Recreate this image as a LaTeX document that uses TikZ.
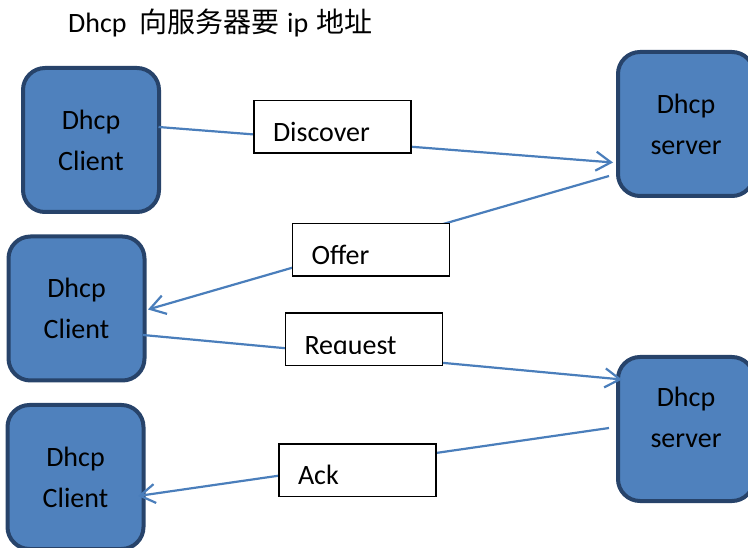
\documentclass[tikz,border=0pt]{standalone}
\usepackage{fontspec}
\setmainfont{Carlito}
\newfontfamily\cjk{Noto Sans CJK SC}
\usetikzlibrary{arrows.meta,calc}
\pgfdeclarelayer{bg}
\pgfdeclarelayer{mid}
\pgfsetlayers{bg,mid,main}
\definecolor{boxfill}{HTML}{4F81BD}
\definecolor{boxline}{HTML}{27436A}
\definecolor{conn}{HTML}{4A7EBB}
\tikzset{
  hostbox/.style={draw=boxline, fill=boxfill, line width=4pt, rounded corners=22pt,
    minimum width=136pt, minimum height=144pt, inner sep=0pt, align=center,
    font=\fontsize{28}{41}\selectfont},
  msgbox/.style={draw=black, fill=white, line width=1.5pt, inner xsep=19pt, inner ysep=0pt,
    text width=119pt, align=left, text height=41pt, text depth=11.5pt,
    font=\fontsize{28}{34}\selectfont},
  link/.style={draw=conn, line width=2.2pt},
  arrowlink/.style={link, -{Straight Barb[length=15pt,width=19pt]}},
}
\begin{document}
\begin{tikzpicture}[x=1pt,y=-1pt]
\useasboundingbox (0,0) rectangle (748,548);
\clip (0,0) rectangle (748,548);
\node[anchor=base west, inner sep=0pt, font=\fontsize{28}{30}\selectfont] (title) at (68,33)
  {Dhcp\hspace{13pt}{\cjk 向服务器要}\hspace{7.5pt}ip\hspace{8pt}{\cjk 地址}};
\begin{pgfonlayer}{bg}
\node[hostbox] (c1) at (91,140) {Dhcp\\Client};
\node[hostbox] (s1) at (686,124) {Dhcp\\server};
\node[hostbox] (c2) at (76.5,308.5) {Dhcp\\Client};
\node[hostbox, label={[font=\fontsize{28}{41}\selectfont, align=center, yshift=12pt]center:Dhcp\\server}] (s2) at (686,429) {};
\node[hostbox] (c3) at (75.5,477) {Dhcp\\Client};
\end{pgfonlayer}
\node[msgbox] (m1) at (332.5,127) {Discover};
\node[msgbox] (m2) at (371,250) {Offer};
\node[msgbox] (m3) at (364,339.5) {Request};
\node[msgbox] (m4) at (357.5,470) {Ack};
\fill[white] ($(m3.south west)+(1.6,-1.7)$) rectangle ($(m3.south east)+(-1.6,-12)$);
\begin{pgfonlayer}{mid}
\draw[arrowlink] ($(c1.east)+(-2.5,-13)$) -- ($(s1.west)+(-3,38.5)$);
\draw[arrowlink] ($(s1.west)+(-7,52)$) -- ($(c2.east)+(1.5,1)$);
\draw[arrowlink] ($(c2.east)+(-3.5,26.5)$) -- ($(s2.west)+(6,-49.5)$);
\draw[arrowlink] ($(s2.west)+(-7,-1)$) -- ($(c3.east)+(-7.5,19)$);
\end{pgfonlayer}
\end{tikzpicture}
\end{document}
